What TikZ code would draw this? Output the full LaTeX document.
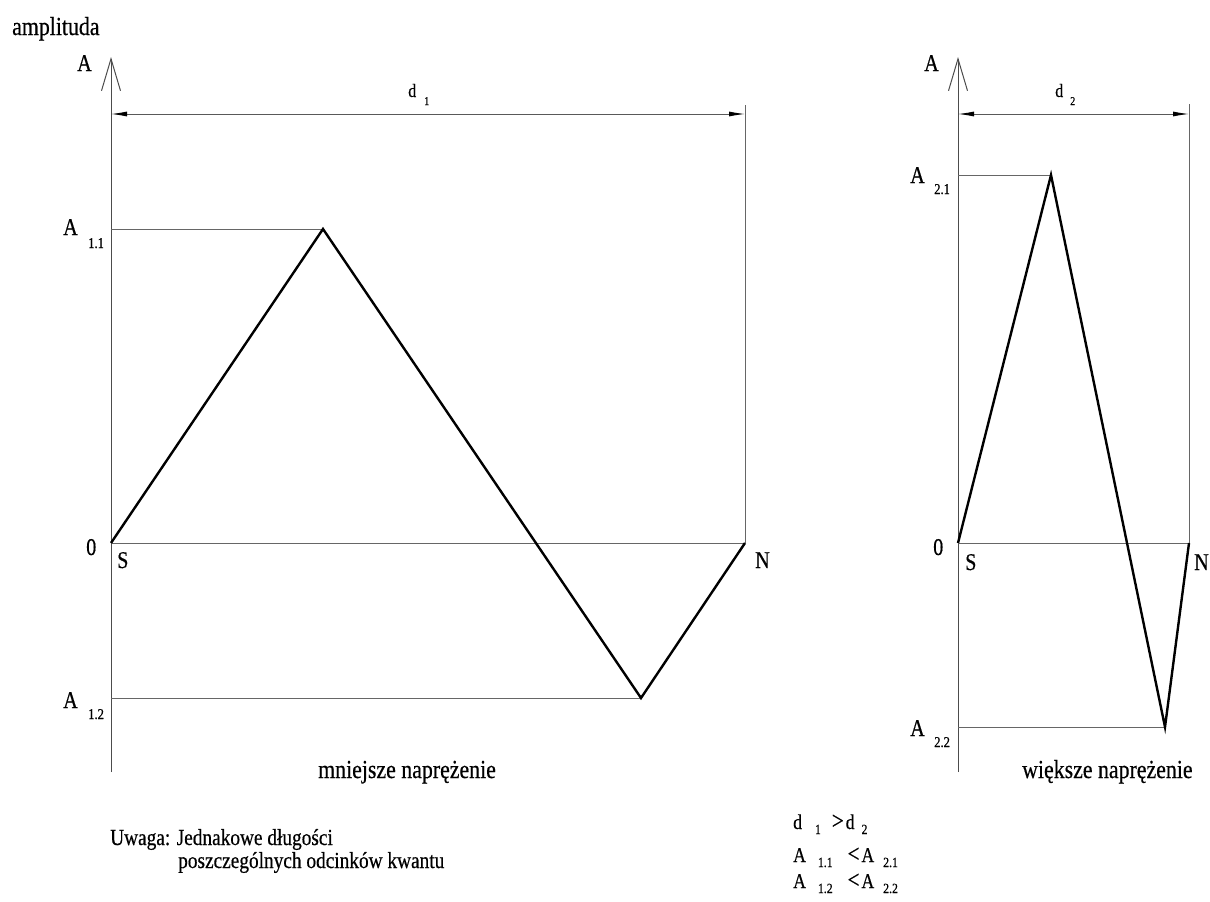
\documentclass[tikz,border=0pt]{standalone}
\usepackage{fontspec}
\setmainfont{Liberation Serif}[FakeStretch=0.84,FakeBold=0.5]
\usetikzlibrary{arrows.meta,positioning}
\newcommand{\idx}[2]{\hspace{#1}\raisebox{-5pt}{\fontsize{14}{14}\selectfont #2}}
\tikzset{
   axis/.style={draw=black!70, line width=1pt},
   axis arrow/.style={axis, -{Straight Barb[length=32pt,width=19pt]}},
   guide/.style={draw=black!60, line width=0.9pt},
   signal/.style={draw=black, line width=2.4pt, line join=miter},
   dim/.style={draw=black!65, line width=0.9pt, {Latex[length=16pt,width=5pt,black]}-{Latex[length=16pt,width=5pt,black]}},
   lbl/.style={inner sep=0pt, anchor=base west, font=\fontsize{24}{26}\selectfont},
   sub/.style={inner sep=0pt, anchor=base west, font=\fontsize{15}{16}\selectfont},
   dimlbl/.style={inner sep=0pt, anchor=base west, font=\fontsize{19}{20}\selectfont},
   caption/.style={inner sep=0pt, anchor=base west, font=\fontsize{26}{28}\selectfont},
   note/.style={inner sep=0pt, anchor=base west, font=\fontsize{23}{24}\selectfont},
   relation/.style={inner sep=0pt, anchor=base west, font=\fontsize{21}{22}\selectfont},
   >=latex
}
\begin{document}
\begin{tikzpicture}[x=1pt,y=-1pt]

  \path[use as bounding box] (0,0) rectangle (1210,902);

  %% Left diagram (smaller stress)
  \coordinate (S1)    at (111,543);
  \coordinate (N1)    at (745,543);
  \coordinate (P1)    at (323,229);
  \coordinate (T1)    at (641,698);
  \coordinate (top1)  at (111,57);
  \coordinate (bot1)  at (111,772);
  \coordinate (dimS1) at (111,114);
  \coordinate (dimN1) at (745,114);
  \coordinate (end1)  at (745,105);
  \coordinate (lev11) at (111,229);
  \coordinate (lev12) at (111,698);

  \draw[axis arrow] (bot1) -- (top1);
  \draw[guide] (S1) -- (N1);
  \draw[guide] (end1) -- (N1);
  \draw[guide] (lev11) -- (P1);
  \draw[guide] (lev12) -- (T1);
  \draw[dim] (dimS1) -- (dimN1);
  \draw[signal] (S1) -- (P1) -- (T1) -- (N1);

  \node[caption] at (12,35)   (ampl)    {amplituda};
  \node[lbl]     at (77,71)   (axisA1)  {A};
  \node[dimlbl]  at (408,97)  (d1)      {d};
  \node[sub, font=\fontsize{12}{12}\selectfont] at (424,105) (d1idx) {1};
  \node[lbl]     at (63,235)  (A11)     {A};
  \node[sub]     at (88,248)  (A11idx)  {1.1};
  \node[lbl]     at (86,555)  (zero1)   {0};
  \node[lbl]     at (117,568) (lblS1)   {S};
  \node[lbl]     at (755,568) (lblN1)   {N};
  \node[lbl]     at (63,708)  (A12)     {A};
  \node[sub]     at (88,719)  (A12idx)  {1.2};
  \node[caption] at (318,778) (smaller) {mniejsze naprężenie};

  %% Right diagram (greater stress)
  \coordinate (S2)    at (958,543);
  \coordinate (N2)    at (1189,543);
  \coordinate (P2)    at (1051,175);
  \coordinate (T2)    at (1165,727);
  \coordinate (top2)  at (958,57);
  \coordinate (bot2)  at (958,772);
  \coordinate (dimS2) at (958,114);
  \coordinate (dimN2) at (1189,114);
  \coordinate (end2)  at (1189,104);
  \coordinate (lev21) at (958,175);
  \coordinate (lev22) at (958,727);

  \draw[axis arrow] (bot2) -- (top2);
  \draw[guide] (S2) -- (N2);
  \draw[guide] (end2) -- (N2);
  \draw[guide] (lev21) -- (P2);
  \draw[guide] (lev22) -- (T2);
  \draw[dim] (dimS2) -- (dimN2);
  \draw[signal] (S2) -- (P2) -- (T2) -- (N2);

  \node[lbl]     at (924,71)   (axisA2)  {A};
  \node[dimlbl]  at (1055,97)  (d2)      {d};
  \node[sub, font=\fontsize{12}{12}\selectfont] at (1070,105) (d2idx) {2};
  \node[lbl]     at (910,183)  (A21)     {A};
  \node[sub]     at (934,194)  (A21idx)  {2.1};
  \node[lbl]     at (933,555)  (zero2)   {0};
  \node[lbl]     at (965,570)  (lblS2)   {S};
  \node[lbl]     at (1194,570) (lblN2)   {N};
  \node[lbl]     at (910,736)  (A22)     {A};
  \node[sub]     at (934,747)  (A22idx)  {2.2};
  \node[caption] at (1022,778) (greater) {większe naprężenie};

  %% Notes
  \node[note] at (110,845) (note1) {Uwaga: Jednakowe długości};
  \node[note] at (178,868) (note2) {poszczególnych odcinków kwantu};

  \node[relation] at (793,829) (rel1) {d\idx{13pt}{1}\hspace{11pt}{\fontsize{25}{25}\selectfont >}\hspace{2pt}d\idx{7pt}{2}};
  \node[relation] at (793,862) (rel2) {A\idx{12pt}{1.1}\hspace{15pt}{\fontsize{25}{25}\selectfont <}\hspace{2pt}A\idx{9pt}{2.1}};
  \node[relation] at (793,888) (rel3) {A\idx{12pt}{1.2}\hspace{15pt}{\fontsize{25}{25}\selectfont <}\hspace{2pt}A\idx{9pt}{2.2}};

\end{tikzpicture}
\end{document}
